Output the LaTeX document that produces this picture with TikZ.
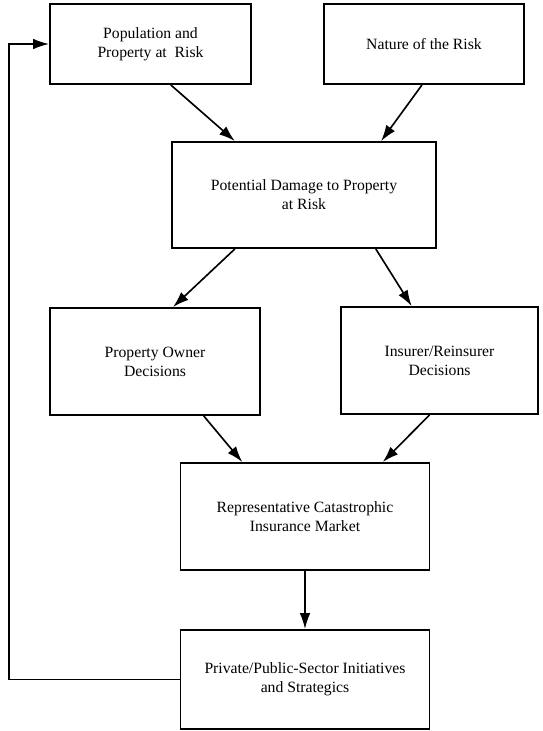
\documentclass[tikz,border=0pt]{standalone}
\usepackage{fontspec}
\setmainfont{Liberation Serif}
\usetikzlibrary{arrows.meta,calc}

\begin{document}
\begin{tikzpicture}[x=0.03cm, y=-0.03cm,
	box/.style={draw, line width=1.6pt, align=center, inner sep=0pt, font=\fontsize{13.4}{16.4}\selectfont},
	flow/.style={-{Latex[length=4.8mm,width=3.2mm]}, line width=1.4pt}]
	\useasboundingbox (0,0) rectangle (543,731);

	\node[box, minimum width=6.03cm, minimum height=2.4cm]		(pop)		at	(150.5,44)	{Population and\\Property at\ \ Risk};
	\node[box, minimum width=6.0cm, minimum height=2.4cm]		(nature)	at	(424,44)	{Nature of the Risk};
	\node[box, minimum width=7.92cm, minimum height=3.18cm]		(damage)	at	(304,195)	{Potential Damage to Property\\at Risk};
	\node[box, minimum width=6.3cm, minimum height=3.21cm]		(owner)		at	(155,361.5)	{Property Owner\\Decisions};
	\node[box, minimum width=5.91cm, minimum height=3.21cm]		(insurer)	at	(439.5,360.5)	{Insurer/Reinsurer\\Decisions};
	\node[box, minimum width=7.47cm, minimum height=3.21cm]		(market)	at	(305,516.5)	{Representative Catastrophic\\Insurance Market};
	\node[box, minimum width=7.47cm, minimum height=2.97cm]		(private)	at	(305,679.5)	{Private/Public-Sector Initiatives\\and Strategics};
	\coordinate												(back)		at	(9,0);

	\draw[flow] ($(pop.south west)!.60!(pop.south east)$) -- ($(damage.north west)!.24!(damage.north east)$);
	\draw[flow] ($(nature.south west)!.49!(nature.south east)$) -- ($(damage.north west)!.79!(damage.north east)$);

	\draw[flow] ($(damage.south west)!.24!(damage.south east)$) -- ($(owner.north west)!.585!(owner.north east)$);
	\draw[flow] ($(damage.south west)!.77!(damage.south east)$) -- ($(insurer.north west)!.36!(insurer.north east)$);

	\draw[flow] ($(owner.south west)!.73!(owner.south east)$) -- ($(market.north west)!.25!(market.north east)$);
	\draw[flow] ($(insurer.south west)!.45!(insurer.south east)$) -- ($(market.north west)!.81!(market.north east)$);

	\draw[flow] (market.south) -- (private.north);

	\draw[flow] (private.west) -- (private.west -| back) |- (pop.west);

\end{tikzpicture}
\end{document}
